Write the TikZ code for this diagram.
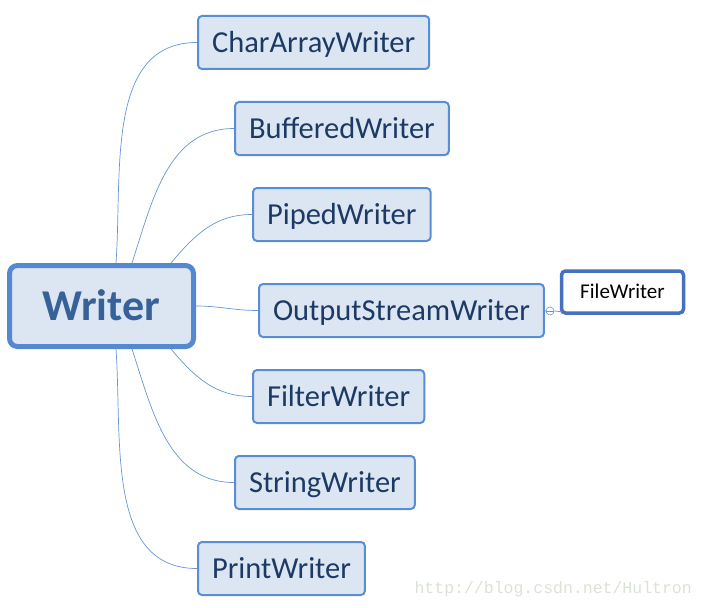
\documentclass[tikz,border=0pt]{standalone}
\usepackage{fontspec}
\setmainfont{Carlito}
\newfontfamily\markfont{Liberation Mono}
\usepackage{tikz}
\usetikzlibrary{calc}
\definecolor{boxfill}{HTML}{DCE6F2}
\definecolor{boxline}{HTML}{5A8ED4}
\definecolor{rootline}{HTML}{5588D0}
\definecolor{roottext}{HTML}{366199}
\definecolor{leaftext}{HTML}{1C3A64}
\definecolor{linkblue}{HTML}{6A95D2}
\definecolor{fileline}{HTML}{4670C0}
\definecolor{marktext}{HTML}{DCE2D6}
\def\drawlink{\draw[color=linkblue, line width=0.7pt]}
\def\classnode{\node[draw=boxline,fill=boxfill,line width=2pt,rounded corners=4pt,
  minimum height=53pt,inner xsep=14pt,text height=19.5pt,text depth=0pt,
  text=leaftext,font=\fontsize{30.5}{34}\selectfont]}

\begin{document}
\begin{tikzpicture}[x=1pt,y=-1pt]
\useasboundingbox (0,0) rectangle (703,607);

\node[draw=rootline,fill=boxfill,line width=5pt,rounded corners=8pt,
  minimum width=184pt,minimum height=81pt,text height=28pt,text depth=0pt,
  text=roottext,font=\fontsize{44}{48}\selectfont\bfseries] (writer) at (101.5,306) {Writer};

% -------- subclasses ---------
\classnode[anchor=west] (chararray) at (197,42.5) {CharArrayWriter};
\classnode[anchor=west] (buffered) at (234,128.5) {BufferedWriter};
\classnode[anchor=west] (piped) at (252,214.5) {PipedWriter};
\classnode[anchor=west] (outstream) at (258,310.5) {OutputStreamWriter};
\classnode[anchor=west] (filter) at (252,396.5) {FilterWriter};
\classnode[anchor=west] (string) at (234,482.5) {StringWriter};
\classnode[anchor=west] (print) at (197,568.5) {PrintWriter};

% FileWriter hangs off OutputStreamWriter, with its fold marker
\node[draw=fileline,fill=white,line width=3.5pt,rounded corners=4pt,
  minimum width=122pt,minimum height=42pt,text height=13.5pt,text depth=0pt,
  font=\fontsize{21}{24}\selectfont] (filewriter) at (622.5,292) {FileWriter};
\node[circle,draw=linkblue,fill=white,line width=0.6pt,inner sep=0pt,
  minimum size=8pt] (fold) at (550,311) {};
\draw[color=linkblue, line width=0.6pt] (fold.west) -- (fold.east);

% start points on the edge of the root box
\coordinate (up1) at ($ (writer.north west) + (109,0) $);
\coordinate (up2) at ($ (writer.north west) + (125,0) $);
\coordinate (up3) at ($ (writer.north west) + (164,0) $);
\coordinate (down1) at ($ (writer.south west) + (109,0) $);
\coordinate (down2) at ($ (writer.south west) + (125,0) $);
\coordinate (down3) at ($ (writer.south west) + (164,0) $);

\drawlink[out=86,in=180] (up1) to (chararray.west);
\drawlink[out=72,in=180] (up2) to (buffered.west);
\drawlink[out=50,in=180] (up3) to (piped.west);
\drawlink[out=0,in=180] (writer.east) to (outstream.west);
\drawlink[out=-50,in=180] (down3) to (filter.west);
\drawlink[out=-72,in=180] (down2) to (string.west);
\drawlink[out=-86,in=180] (down1) to (print.west);
\drawlink (outstream.east) -- (fold.west);
\drawlink (fold.east) -- ($ (filewriter.south west) + (2,-3) $);

\node[anchor=south east,text=marktext,inner sep=0pt,
  font=\markfont\fontsize{16.5}{18}\selectfont] (mark) at (692,597) {http://blog.csdn.net/Hultron};
\end{tikzpicture}
\end{document}
